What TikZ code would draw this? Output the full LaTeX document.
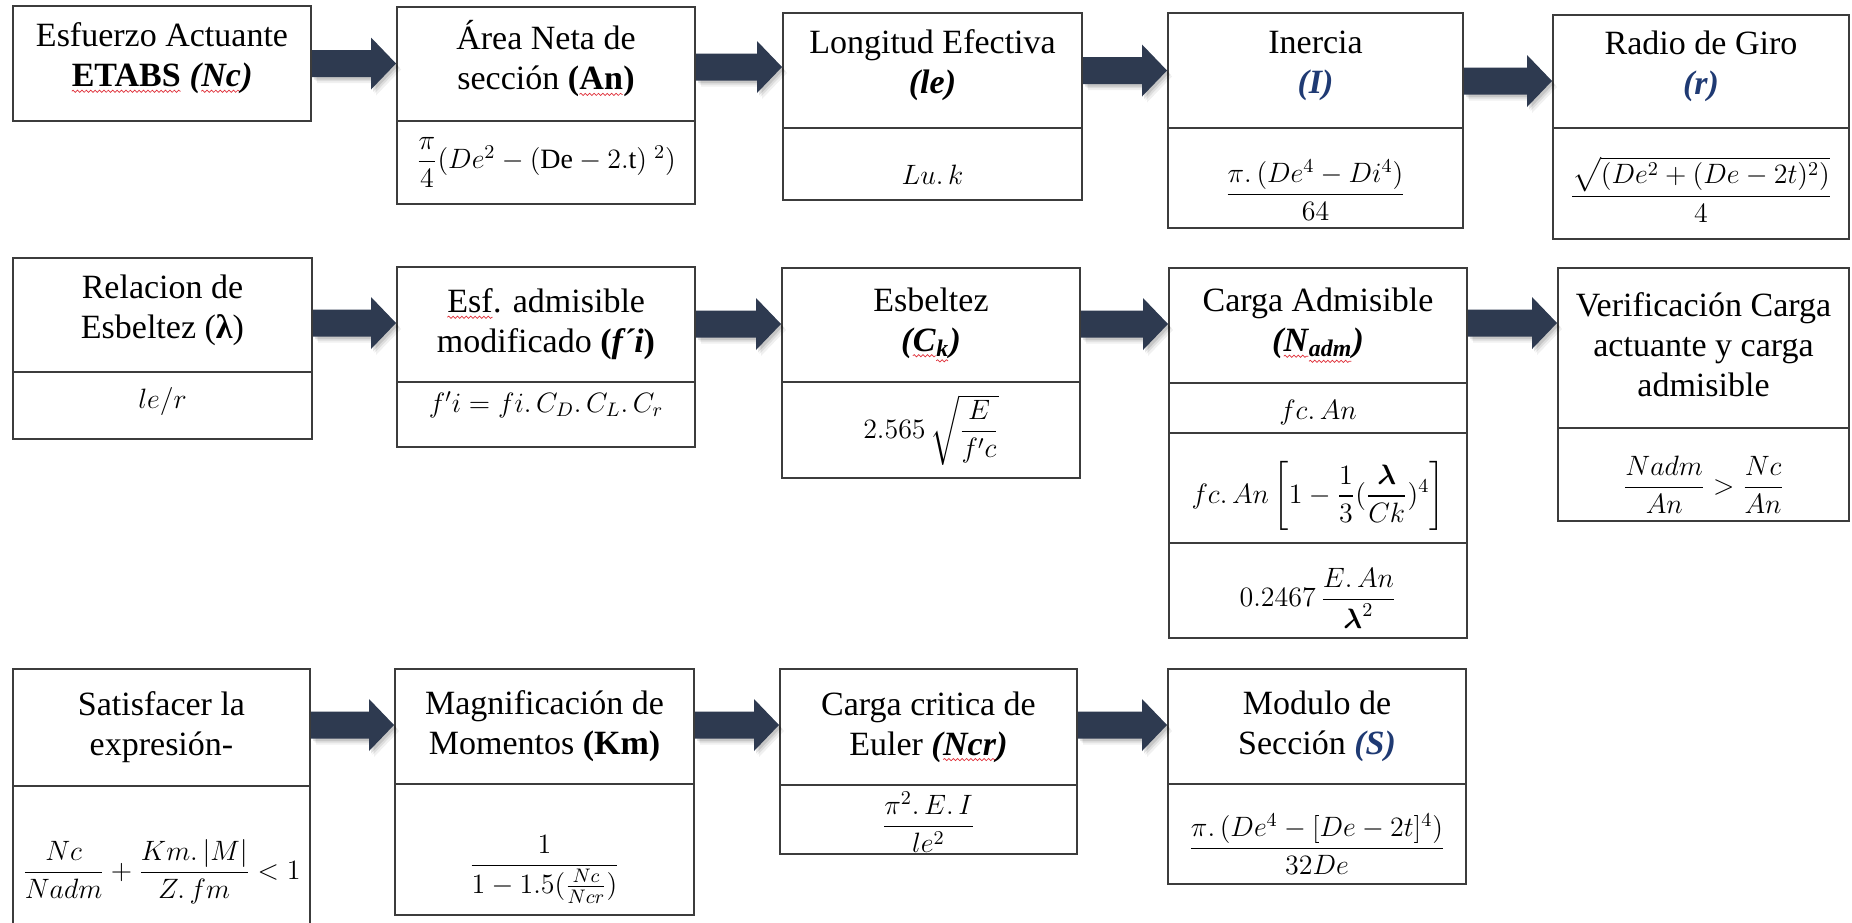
\documentclass[tikz,border=0pt]{standalone}
\usepackage{fix-cm}
\usepackage{amsmath}
\usepackage{fontspec}
\setmainfont{Liberation Serif}
\usetikzlibrary{calc,fit,decorations.pathmorphing}
\definecolor{arrowc}{HTML}{2E3A50}
\definecolor{bluet}{HTML}{1F3A73}
\definecolor{boxc}{HTML}{3C3C3C}
\definecolor{wavec}{HTML}{E0303A}
\newcommand\rw[1]{\tikz[baseline=(rwn.base),x=1pt,y=1pt]{\node[inner sep=0pt,outer sep=0pt] (rwn) {#1};
  \draw[wavec,line width=0.35pt,decorate,decoration={snake,amplitude=0.55pt,segment length=2.2pt}] ([yshift=-2.2pt]rwn.base west) -- ([yshift=-2.2pt]rwn.base east);}}
\tikzset{
  box/.style={draw=boxc, line width=1pt, inner sep=0pt},
  hdr/.style={align=center, font=\fontsize{17}{20}\selectfont, inner sep=0pt},
  frm/.style={font=\fontsize{14}{16}\selectfont, inner sep=0pt},
}
\newcommand\arrpath[2]{($(as)+(#1,-13.5+#2)$) -- ($(at)+(-25+#1,-13.5+#2)$) -- ($(at)+(-25+#1,-26+#2)$) -- ($(at)+(#1,#2)$) -- ($(at)+(-25+#1,26+#2)$) -- ($(at)+(-25+#1,13.5+#2)$) -- ($(as)+(#1,13.5+#2)$) -- cycle}
\newcommand\barrow[3]{%
  \coordinate (ay) at (0,#3);
  \coordinate (as) at (#1.east |- ay);
  \coordinate (at) at (#2.west |- ay);
  \fill[black,opacity=0.06] \arrpath{5}{6};
  \fill[black,opacity=0.08] \arrpath{3.5}{4};
  \fill[black,opacity=0.10] \arrpath{2}{2.5};
  \fill[arrowc] \arrpath{0}{0};
}
\begin{document}
\begin{tikzpicture}[x=0.5pt,y=-0.5pt]
\useasboundingbox (0,0) rectangle (1852,922);
\fill[white] (0,0) rectangle (1852,922);

% ---------- row 1 ----------
\node[box, fit={(13,6)(311,121)}] (b1) {};
\node[box, fit={(397,7)(695,121)}] (b2) {};
\node[box, fit={(397,121)(695,204)}] (b2f) {};
\node[box, fit={(783,13)(1082,128)}] (b3) {};
\node[box, fit={(783,128)(1082,200)}] (b3f) {};
\node[box, fit={(1168,13)(1463,128)}] (b4) {};
\node[box, fit={(1168,128)(1463,228)}] (b4f) {};
\node[box, fit={(1553,15)(1849,128)}] (b5) {};
\node[box, fit={(1553,128)(1849,239)}] (b5f) {};

\node[hdr] (t1) at ([yshift=2.5pt]b1.center) {Esfuerzo Actuante\\ \textbf{\rw{ETABS}} \textbf{\textit{(\rw{Nc})}}};
\node[hdr] (t2) at ([yshift=2.5pt]b2.center) {Área Neta de\\ sección \textbf{(\rw{An})}};
\node[hdr] (t3) at ([yshift=2.5pt]b3.center) {Longitud Efectiva\\ \textbf{\textit{(le)}}};
\node[hdr] (t4) at ([yshift=2.5pt]b4.center) {Inercia\\ \textcolor{bluet}{\textbf{\textit{(I)}}}};
\node[hdr] (t5) at ([yshift=2.5pt]b5.center) {Radio de Giro\\ \textcolor{bluet}{\textbf{\textit{(r)}}}};

\node[frm] (f2) at (b2f.center) {$\dfrac{\pi}{4}(De^2-(\mathrm{De}-2.\mathrm{t})\ ^2)$};
\node[frm] (f3) at ([yshift=-5.5pt]b3f.center) {$Lu.\,k$};
\node[frm] (f4) at ([yshift=-6pt]b4f.center) {$\dfrac{\pi.\,(De^4-Di^4)}{64}$};
\node[frm] (f5) at ([yshift=-3pt]b5f.center) {$\dfrac{\sqrt{(De^2+(De-2t)^2)}}{4}$};

% ---------- row 2 ----------
\node[box, fit={(13,258)(312,372)}] (b6) {};
\node[box, fit={(13,372)(312,439)}] (b6f) {};
\node[box, fit={(397,267)(695,382)}] (b7) {};
\node[box, fit={(397,382)(695,447)}] (b7f) {};
\node[box, fit={(782,268)(1080,382)}] (b8) {};
\node[box, fit={(782,382)(1080,478)}] (b8f) {};
\node[box, fit={(1169,268)(1467,383)}] (b9) {};
\node[box, fit={(1169,383)(1467,433)}] (b9a) {};
\node[box, fit={(1169,433)(1467,543)}] (b9b) {};
\node[box, fit={(1169,543)(1467,638)}] (b9c) {};
\node[box, fit={(1558,268)(1849,428)}] (b10) {};
\node[box, fit={(1558,428)(1849,521)}] (b10f) {};

\node[hdr] (t6) at ([yshift=2.5pt]b6.center) {Relacion de\\ Esbeltez (\textbf{λ})};
\node[hdr] (t7) at (b7.center) {\rw{Esf}. admisible\\ modificado \textbf{(\textit{f´i})}};
\node[hdr] (t8) at (b8.center) {Esbeltez\\ \textbf{\textit{(\rw{C}\textsubscript{\rw{k}})}}};
\node[hdr] (t9) at (b9.center) {Carga Admisible\\ \textbf{\textit{(\rw{N}\textsubscript{\rw{adm}})}}};
\node[hdr] (t10) at ([yshift=1.5pt]b10.center) {Verificación Carga\\ actuante y carga\\ admisible};

\node[frm] (f6) at ([yshift=2pt]b6f.center) {$le/r$};
\node[frm] (f7) at ([yshift=5pt]b7f.center) {$f'i=fi.\,C_D.\,C_L.\,C_r$};
\node[frm] (f8) at (b8f.center) {$2.565\,\sqrt{\dfrac{E}{f'c}}$};
\node[frm] (f9a) at ([yshift=-2pt]b9a.center) {$fc.\,An$};
\node[frm] (f9b) at ([yshift=-4pt]b9b.center) {$fc.\,An\left[1-\dfrac{1}{3}(\dfrac{\boldsymbol{\lambda}}{Ck})^4\right]$};
\node[frm] (f9c) at ([yshift=-4pt]b9c.center) {$0.2467\,\dfrac{E.\,An}{\boldsymbol{\lambda}^2}$};
\node[frm] (f10) at ([yshift=-5pt]b10f.center) {$\dfrac{Nadm}{An}>\dfrac{Nc}{An}$};

% ---------- row 3 ----------
\node[box, fit={(13,669)(310,786)}] (b11) {};
\node[box, fit={(13,786)(310,945)}] (b11f) {};
\node[box, fit={(395,669)(694,784)}] (b12) {};
\node[box, fit={(395,784)(694,915)}] (b12f) {};
\node[box, fit={(780,669)(1077,785)}] (b13) {};
\node[box, fit={(780,785)(1077,854)}] (b13f) {};
\node[box, fit={(1168,669)(1466,784)}] (b14) {};
\node[box, fit={(1168,784)(1466,884)}] (b14f) {};

\node[hdr] (t11) at (b11.center) {Satisfacer la\\ expresión-};
\node[hdr] (t12) at (b12.center) {Magnificación de\\ Momentos \textbf{(Km)}};
\node[hdr] (t13) at (b13.center) {Carga critica de\\ Euler \textbf{\textit{(\rw{Ncr})}}};
\node[hdr] (t14) at (b14.center) {Modulo de\\ Sección \textcolor{bluet}{\textbf{\textit{(S)}}}};

\node[frm] (f11) at ([yshift=-43.5pt]b11f.north) {$\dfrac{Nc}{Nadm}+\dfrac{Km.\,|M|}{Z.\,fm}<1$};
\node[frm] (f12) at ([yshift=-10pt]b12f.center) {$\dfrac{1}{1-1.5(\frac{Nc}{Ncr})}$};
\node[frm] (f13) at ([yshift=-1.5pt]b13f.center) {$\dfrac{\pi^2.\,E.\,I}{le^2}$};
\node[frm] (f14) at ([yshift=-5pt]b14f.center) {$\dfrac{\pi.\,(De^4-[De-2t]^4)}{32De}$};

% ---------- arrows ----------
\barrow{b1}{b2}{63.5}
\barrow{b2}{b3}{67}
\barrow{b3}{b4}{70.5}
\barrow{b4}{b5}{81}
\barrow{b6}{b7}{323}
\barrow{b7}{b8}{324}
\barrow{b8}{b9}{324}
\barrow{b9}{b10}{323}
\barrow{b11}{b12}{725}
\barrow{b12}{b13}{725}
\barrow{b13}{b14}{725}
\end{tikzpicture}
\end{document}
